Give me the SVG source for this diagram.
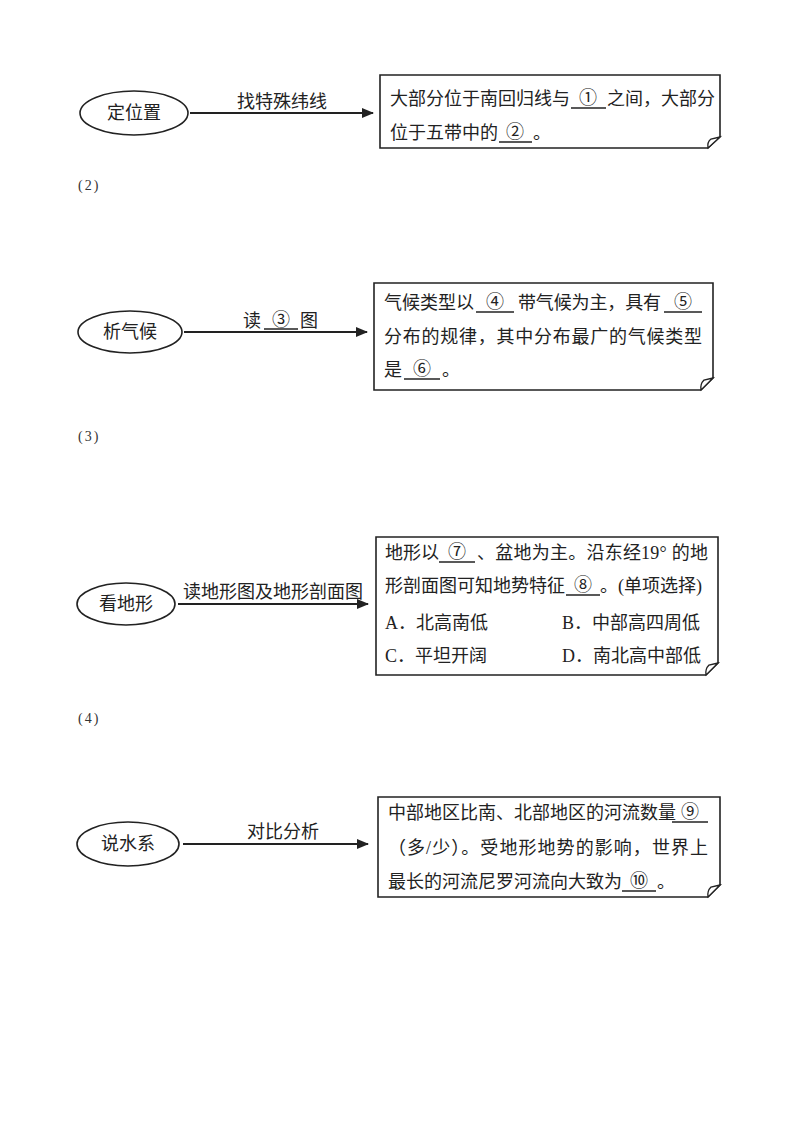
<svg xmlns="http://www.w3.org/2000/svg" width="800" height="1132" viewBox="0 0 800 1132">
<defs>
<marker id="arr" markerWidth="12" markerHeight="10" refX="11" refY="5" orient="auto" markerUnits="userSpaceOnUse">
<path d="M0,0 L12,5 L0,10 Z" fill="#222"/>
</marker>
<style>
.bg{fill:#fff}
.ell{fill:#fff;stroke:#222;stroke-width:1.6}
.box{fill:#fff;stroke:#222;stroke-width:1.6}
.curl{fill:#fff;stroke:#222;stroke-width:1.3}
.con{stroke:#222;stroke-width:1.8;fill:none}
.blank{stroke:#222;stroke-width:1.3}
text{font-family:"Liberation Serif","Noto Sans CJK SC",serif;font-size:18px;fill:#222}
.c{text-anchor:middle}
.num{font-family:"Liberation Serif","Noto Sans CJK SC",serif;font-size:14px;fill:#333;letter-spacing:2px}
</style>
</defs>
<rect class="bg" x="0" y="0" width="800" height="1132"/>

<g id="connectors">
<line class="con" x1="190" y1="113" x2="373" y2="113" marker-end="url(#arr)"/>
<line class="con" x1="184" y1="332" x2="367" y2="332" marker-end="url(#arr)"/>
<line class="con" x1="178" y1="604" x2="368" y2="604" marker-end="url(#arr)"/>
<line class="con" x1="183" y1="844" x2="368" y2="844" marker-end="url(#arr)"/>
<text class="c" x="282" y="108">找特殊纬线</text>
<text x="243" y="327">读</text>
<line class="blank" x1="264" y1="329" x2="298" y2="329"/>
<text class="c" x="281" y="326">③</text>
<text x="300" y="327">图</text>
<text x="183" y="598">读地形图及地形剖面图</text>
<text class="c" x="283" y="838">对比分析</text>
</g>

<g id="n1-ellipse"><ellipse class="ell" cx="134" cy="113" rx="54" ry="22"/><text class="c" x="134" y="119">定位置</text></g>
<g id="n1-box">
<path class="box" d="M380,75 H720 V137 L708,148 H380 Z"/>
<path class="curl" d="M720,137 L711,139 Q707,142 708,148 Z"/>
<text x="390" y="105">大部分位于南回归线与</text>
<line class="blank" x1="571" y1="108" x2="606" y2="108"/>
<text class="c" x="588" y="104">①</text>
<text x="607" y="105">之间，大部分</text>
<text x="390" y="139">位于五带中的</text>
<line class="blank" x1="499" y1="142" x2="532" y2="142"/>
<text class="c" x="515" y="138">②</text>
<text x="533" y="139">。</text>
</g>

<text class="num" x="78" y="190">(2)</text>

<g id="n2-ellipse"><ellipse class="ell" cx="130" cy="332" rx="52" ry="21"/><text class="c" x="130" y="338">析气候</text></g>
<g id="n2-box">
<path class="box" d="M374,283 H713 V378 L701,390 H374 Z"/>
<path class="curl" d="M713,378 L704,380 Q700,384 701,390 Z"/>
<text x="384" y="309">气候类型以</text>
<line class="blank" x1="476" y1="312" x2="514" y2="312"/>
<text class="c" x="495" y="308">④</text>
<text x="518" y="309" textLength="143" lengthAdjust="spacing">带气候为主，具有</text>
<line class="blank" x1="664" y1="312" x2="702" y2="312"/>
<text class="c" x="683" y="308">⑤</text>
<text x="384" y="343" textLength="318" lengthAdjust="spacing">分布的规律，其中分布最广的气候类型</text>
<text x="384" y="376">是</text>
<line class="blank" x1="404" y1="379" x2="440" y2="379"/>
<text class="c" x="422" y="375">⑥</text>
<text x="442" y="376">。</text>
</g>

<text class="num" x="78" y="441">(3)</text>

<g id="n3-ellipse"><ellipse class="ell" cx="126" cy="604" rx="49" ry="21"/><text class="c" x="126" y="610">看地形</text></g>
<g id="n3-box">
<path class="box" d="M376,537 H718 V663 L706,675 H376 Z"/>
<path class="curl" d="M718,663 L709,665 Q705,669 706,675 Z"/>
<text x="385" y="559">地形以</text>
<line class="blank" x1="439" y1="562" x2="475" y2="562"/>
<text class="c" x="457" y="558">⑦</text>
<text x="477" y="559" textLength="231" lengthAdjust="spacing">、盆地为主。沿东经19° 的地</text>
<text x="385" y="592">形剖面图可知地势特征</text>
<line class="blank" x1="566" y1="595" x2="600" y2="595"/>
<text class="c" x="583" y="591">⑧</text>
<text x="600" y="592">。(单项选择)</text>
<text x="385" y="629">A．北高南低</text>
<text x="562" y="629">B．中部高四周低</text>
<text x="385" y="662">C．平坦开阔</text>
<text x="562" y="662">D．南北高中部低</text>
</g>

<text class="num" x="78" y="723">(4)</text>

<g id="n4-ellipse"><ellipse class="ell" cx="128" cy="844" rx="51" ry="22"/><text class="c" x="128" y="850">说水系</text></g>
<g id="n4-box">
<path class="box" d="M378,797 H720 V885 L708,897 H378 Z"/>
<path class="curl" d="M720,885 L711,887 Q707,891 708,897 Z"/>
<text x="388" y="819">中部地区比南、北部地区的河流数量</text>
<line class="blank" x1="672" y1="822" x2="708" y2="822"/>
<text class="c" x="690" y="818">⑨</text>
<text x="388" y="854" textLength="320" lengthAdjust="spacing">（多/少）。受地形地势的影响，世界上</text>
<text x="388" y="888">最长的河流尼罗河流向大致为</text>
<line class="blank" x1="622" y1="891" x2="656" y2="891"/>
<text class="c" x="639" y="887">⑩</text>
<text x="657" y="888">。</text>
</g>
</svg>
